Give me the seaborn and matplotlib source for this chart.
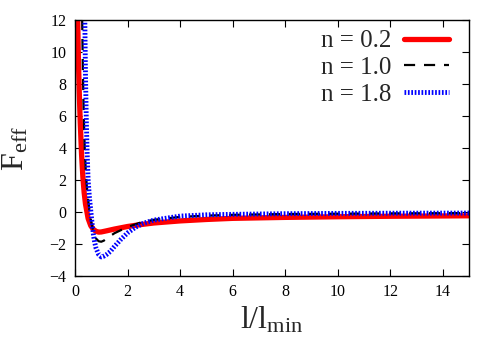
import matplotlib
matplotlib.use("Agg")
import matplotlib.pyplot as plt
import seaborn as sns
import pandas as pd

# n = 0.2
red_x = [0.08, 0.1, 0.13, 0.16, 0.2, 0.25, 0.3, 0.35, 0.4, 0.5, 0.6, 0.7, 0.8, 0.9, 1.0,
         1.2, 1.5, 2.0, 2.5, 3.0, 4.0, 5.0, 6.0, 8.0, 10.0, 12.0, 15.0]
red_y = [14.0, 12.2, 9.5, 7.6, 5.6, 3.6, 2.2, 1.2, 0.5, -0.4, -0.85, -1.08, -1.2, -1.25, -1.24,
         -1.17, -1.06, -0.9, -0.78, -0.68, -0.55, -0.46, -0.39, -0.33, -0.29, -0.26, -0.23]
# n = 1.0
black_x = [0.25, 0.27, 0.3, 0.33, 0.37, 0.41, 0.45, 0.5, 0.55, 0.6, 0.7, 0.8, 0.9, 1.0, 1.1,
           1.25, 1.5, 2.0, 2.5, 3.0, 4.0, 5.0, 6.0, 8.0, 10.0, 12.0, 15.0]
black_y = [15.0, 12.3, 8.8, 6.3, 4.0, 2.6, 1.6, 0.8, 0.1, -0.45, -1.25, -1.65, -1.82, -1.85, -1.78,
           -1.6, -1.32, -0.93, -0.65, -0.48, -0.3, -0.22, -0.17, -0.12, -0.1, -0.08, -0.06]
# n = 1.8
blue_x = [0.35, 0.37, 0.4, 0.43, 0.46, 0.5, 0.55, 0.6, 0.65, 0.7, 0.75, 0.8, 0.9, 1.0, 1.1, 1.2,
          1.35, 1.5, 1.75, 2.0, 2.3, 2.6, 3.0, 4.0, 5.0, 6.0, 8.0, 10.0, 12.0, 15.0]
blue_y = [15.0, 12.5, 8.5, 5.8, 3.8, 2.0, 0.9, 0.1, -0.7, -1.4, -1.9, -2.25, -2.65, -2.8, -2.75, -2.65,
          -2.45, -2.15, -1.7, -1.3, -0.95, -0.7, -0.5, -0.25, -0.17, -0.14, -0.1, -0.08, -0.07, -0.06]

labels = ["n = 0.2", "n = 1.0", "n = 1.8"]
xticks = [0, 2, 4, 6, 8, 10, 12, 14]
yticks = [-4, -2, 0, 2, 4, 6, 8, 10, 12]

sns.set_style("ticks")
plt.rcParams['font.family'] = ['Liberation Serif', 'DejaVu Serif']
plt.rcParams['mathtext.fontset'] = 'custom'
plt.rcParams['mathtext.rm'] = 'Liberation Serif'
plt.rcParams['mathtext.it'] = 'Liberation Serif'

fig = plt.figure(figsize=(5, 3.5), dpi=100)
ax = fig.add_axes([0.15, 0.211, 0.788, 0.732])

sns.lineplot(x=red_x, y=red_y, ax=ax, color="#ff0000", lw=3.8, label=labels[0],
             sort=False, estimator=None)
sns.lineplot(x=black_x, y=black_y, ax=ax, color="black", lw=1.6, label=labels[1],
             sort=False, estimator=None)
ax.lines[-1].set_dashes([5, 4])
sns.lineplot(x=blue_x, y=blue_y, ax=ax, color="#0000ff", lw=3.5, label=labels[2],
             sort=False, estimator=None)
ax.lines[-1].set_dashes([0.35, 0.35])

ax.set_xlim(0, 15)
ax.set_ylim(-4, 12)
ax.set_xticks(xticks)
ax.set_yticks(yticks)
ax.tick_params(direction="in", top=True, right=True, length=5, width=0.8,
               labelsize=11.5, pad=6, colors="black")
for s in ax.spines.values():
    s.set_linewidth(1.0)
    s.set_color("black")

ax.set_xlabel(r"l/l$_{\mathregular{min}}$", fontsize=23, labelpad=3)
ax.set_ylabel(r"F$_{\mathregular{eff}}$", fontsize=23, labelpad=14)

leg = ax.legend(loc="upper right", frameon=False, markerfirst=False, fontsize=18,
                handlelength=1.8, handletextpad=0.5, labelspacing=0.17,
                borderaxespad=0.0, bbox_to_anchor=(0.975, 1.0))
for t in leg.get_texts():
    t.set_ha("right")

fig.savefig("out.png", dpi=100)
